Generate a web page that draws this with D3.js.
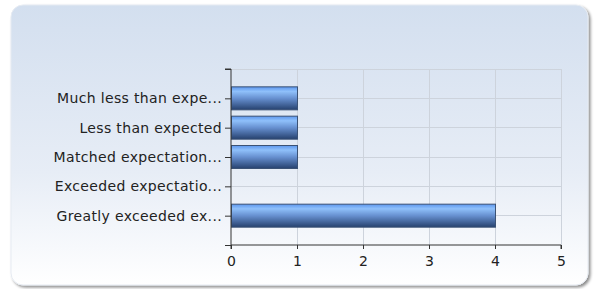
<!DOCTYPE html>
<html>
<head>
<meta charset="utf-8">
<script src="https://cdn.jsdelivr.net/npm/d3@7"></script>
<style>
  body { margin: 0; background: #fff; }
  svg { display: block; }
</style>
</head>
<body>
<script>
// chart data
const categories = [
  "Much less than expe...",
  "Less than expected",
  "Matched expectation...",
  "Exceeded expectatio...",
  "Greatly exceeded ex..."
];
const values = [1, 1, 1, 0, 4];
const xTicks = [0, 1, 2, 3, 4, 5];

const width = 594;
const height = 289;
const plot = { left: 231, right: 561, top: 69, bottom: 245 };
const font = "Verdana, 'DejaVu Sans', sans-serif";

const svg = d3.select("body").append("svg")
  .attr("width", width)
  .attr("height", height);

const defs = svg.append("defs");

const bg = defs.append("linearGradient")
  .attr("id", "bg").attr("x1", 0).attr("y1", 0).attr("x2", 0).attr("y2", 1);
bg.append("stop").attr("offset", "0%").attr("stop-color", "#d3dfef");
bg.append("stop").attr("offset", "60%").attr("stop-color", "#e7edf6");
bg.append("stop").attr("offset", "100%").attr("stop-color", "#ffffff");

const barGrad = defs.append("linearGradient")
  .attr("id", "bar").attr("x1", 0).attr("y1", 0).attr("x2", 0).attr("y2", 1);
barGrad.append("stop").attr("offset", "0%").attr("stop-color", "#5d97ee");
barGrad.append("stop").attr("offset", "20%").attr("stop-color", "#8fc0fa");
barGrad.append("stop").attr("offset", "50%").attr("stop-color", "#6790d0");
barGrad.append("stop").attr("offset", "100%").attr("stop-color", "#26416e");

const shadow = defs.append("filter").attr("id", "shadow")
  .attr("x", "-5%").attr("y", "-5%").attr("width", "110%").attr("height", "115%");
shadow.append("feGaussianBlur").attr("in", "SourceAlpha").attr("stdDeviation", 1.5);
shadow.append("feOffset").attr("dx", 2).attr("dy", 2).attr("result", "off");
shadow.append("feComponentTransfer").append("feFuncA").attr("type", "linear").attr("slope", 0.45);
const merge = shadow.append("feMerge");
merge.append("feMergeNode");
merge.append("feMergeNode").attr("in", "SourceGraphic");

// panel
svg.append("rect")
  .attr("x", 11).attr("y", 5)
  .attr("width", 577).attr("height", 280)
  .attr("rx", 12).attr("ry", 12)
  .attr("fill", "url(#bg)")
  .attr("stroke", "#e6ebf2")
  .attr("filter", "url(#shadow)");

const x = d3.scaleLinear().domain([0, 5]).range([plot.left, plot.right]);
// categories sit at 1..5 on a 0..6 scale
const y = d3.scaleLinear().domain([0, categories.length + 1]).range([plot.top, plot.bottom]);
const barH = 23;

const g = svg.append("g");

// grid
g.selectAll("line.vgrid")
  .data(xTicks.slice(1))
  .enter().append("line")
  .attr("x1", d => x(d)).attr("x2", d => x(d))
  .attr("y1", plot.top).attr("y2", plot.bottom)
  .attr("stroke", "#cdd3dc").attr("stroke-width", 1)
  .attr("shape-rendering", "crispEdges");

g.selectAll("line.hgrid")
  .data(d3.range(0, categories.length + 1))
  .enter().append("line")
  .attr("x1", plot.left).attr("x2", plot.right)
  .attr("y1", d => y(d)).attr("y2", d => y(d))
  .attr("stroke", "#cdd3dc").attr("stroke-width", 1)
  .attr("shape-rendering", "crispEdges");

// bars
const rows = categories.map((c, i) => ({ cat: c, pos: i + 1, value: values[i] }));
g.selectAll("rect.bar")
  .data(rows.filter(d => d.value > 0))
  .enter().append("rect")
  .attr("class", "bar")
  .attr("x", x(0) + 0.5)
  .attr("y", d => y(d.pos) - barH / 2)
  .attr("width", d => x(d.value) - x(0))
  .attr("height", barH)
  .attr("fill", "url(#bar)")
  .attr("stroke", "#3b5275")
  .attr("stroke-width", 1);

// x axis
const xAxis = d3.axisBottom(x).tickValues(xTicks).tickSize(4).tickPadding(7).tickFormat(d3.format("d"));
const xg = svg.append("g")
  .attr("transform", `translate(0,${plot.bottom})`)
  .call(xAxis);
xg.select(".domain").attr("stroke", "#333").attr("d", `M${plot.left},4V0H${plot.right}V4`);
xg.selectAll(".tick line").attr("stroke", "#333");
xg.selectAll("text")
  .attr("font-family", font)
  .attr("font-size", 14)
  .attr("fill", "#222");

// y axis
const yAxis = d3.axisLeft(y)
  .tickValues(d3.range(0, categories.length + 2))
  .tickSize(6).tickPadding(3)
  .tickFormat(d => (d >= 1 && d <= categories.length) ? categories[d - 1] : "");
const yg = svg.append("g")
  .attr("transform", `translate(${plot.left},0)`)
  .call(yAxis);
yg.select(".domain").attr("stroke", "#333").attr("d", `M-6,${plot.top}H0V${plot.bottom}`);
yg.selectAll(".tick line").attr("stroke", "#333");
yg.selectAll("text")
  .attr("font-family", font)
  .attr("font-size", 14)
  .attr("letter-spacing", 0.35)
  .attr("fill", "#222");
</script>
</body>
</html>
